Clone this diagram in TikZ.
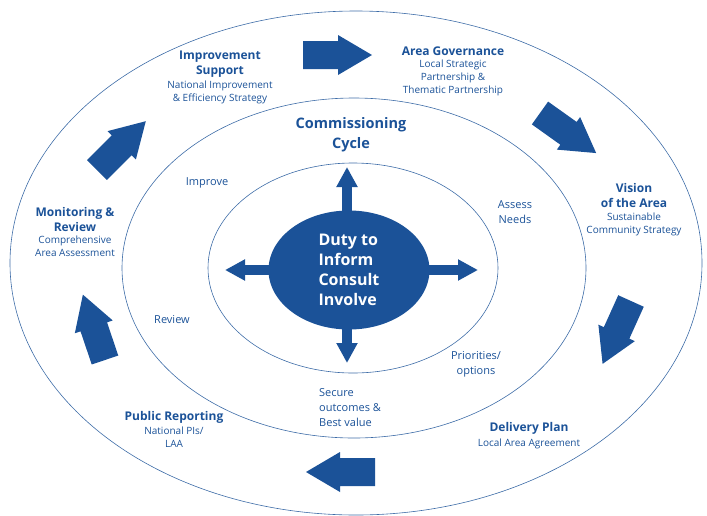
\documentclass[tikz,border=0pt]{standalone}
\usepackage{fontspec}
\setsansfont{Open Sans}
\usetikzlibrary{positioning}
\usetikzlibrary{shapes.geometric,arrows.meta,backgrounds}
\definecolor{cycblue}{RGB}{27,82,152}
\begin{document}
\begin{tikzpicture}[x=1pt, y=-1pt, font=\sffamily,
  ring/.style={draw=cycblue!85, line width=0.6pt},
  hdr/.style={text=cycblue, align=center, inner sep=0pt, font=\sffamily\bfseries\fontsize{12}{15}\selectfont},
  subtxt/.style={text=cycblue, align=center, inner sep=0pt, font=\sffamily\fontsize{10}{13}\selectfont},
  stage/.style={text=cycblue, align=center, inner sep=0pt, font=\sffamily\fontsize{11}{15}\selectfont},
  spoke/.style={cycblue, line width=10pt, -{Triangle[width=20pt,length=20pt]}},
  blockarrow/.pic={\fill[cycblue] (0,-14) -- (35,-14) -- (35,-20) -- (69,0) -- (35,20) -- (35,14) -- (0,14) -- cycle;}]
\useasboundingbox (0,0) rectangle (707,515);
\draw[ring] (356,263) ellipse [x radius=346, y radius=252];
\draw[ring] (354,268) ellipse [x radius=232, y radius=170];
\draw[ring] (353,268) ellipse [x radius=145, y radius=105];
\foreach \x/\y/\a in {303/55/0, 540/113/-35.5, 631/301/-114.3, 375/472/180, 105/360/108.7, 97/170/45}
 \pic[rotate=\a] at (\x,\y) {blockarrow};
\node[ellipse, fill=cycblue, text=white, minimum width=161pt, minimum height=119pt, inner sep=0pt, align=left,
  font=\sffamily\bfseries\fontsize{16}{20}\selectfont] (duty) at (349,270) {Duty to\\Inform\\Consult\\Involve};
\coordinate (tipN) at (347,167);
\coordinate (tipS) at (347,363);
\coordinate (tipW) at (225,270);
\coordinate (tipE) at (478,270);
\begin{scope}[on background layer]
\foreach \d in {N,S}
 \draw[spoke] (tip\d |- duty.center) -- (tip\d);
\foreach \d in {W,E}
 \draw[spoke] (duty.center) -- (tip\d);
\end{scope}
\node[hdr] (support) at (220,64.5) {Improvement\\Support};
\node[subtxt, below=3pt of support] (supportsub) {National Improvement\\\& Efficiency Strategy};
\node[hdr] (governance) at (453,51) {Area Governance};
\node[subtxt, below=4pt of governance] (governancesub) {Local Strategic\\Partnership \&\\Thematic Partnership};
\node[hdr] (vision) at (634,195.5) {Vision\\of the Area};
\node[subtxt, below=4.5pt of vision] (visionsub) {Sustainable\\Community Strategy};
\node[hdr] (delivery) at (529,428) {Delivery Plan};
\node[subtxt, below=4pt of delivery] (deliverysub) {Local Area Agreement};
\node[hdr] (reporting) at (174,417) {Public Reporting};
\node[subtxt, below=3pt of reporting] (reportingsub) {National PIs/\\LAA};
\node[hdr] (monitoring) at (75,219.5) {Monitoring \&\\Review};
\node[subtxt, below=4pt of monitoring] (monitoringsub) {Comprehensive\\Area Assessment};
\node[hdr, font=\sffamily\bfseries\fontsize{14.5}{20}\selectfont] (cycle) at (351,135) {Commissioning\\Cycle};
\node[stage] (improve) at (207,183) {Improve};
\node[stage] (assess) at (515,212.5) {Assess\\Needs};
\node[stage] (review) at (172,320) {Review};
\node[stage] (priorities) at (476,364.5) {Priorities/\\options};
\node[stage, align=left, anchor=west] (secure) at (319,408) {Secure\\outcomes \&\\Best value};
\end{tikzpicture}
\end{document}
